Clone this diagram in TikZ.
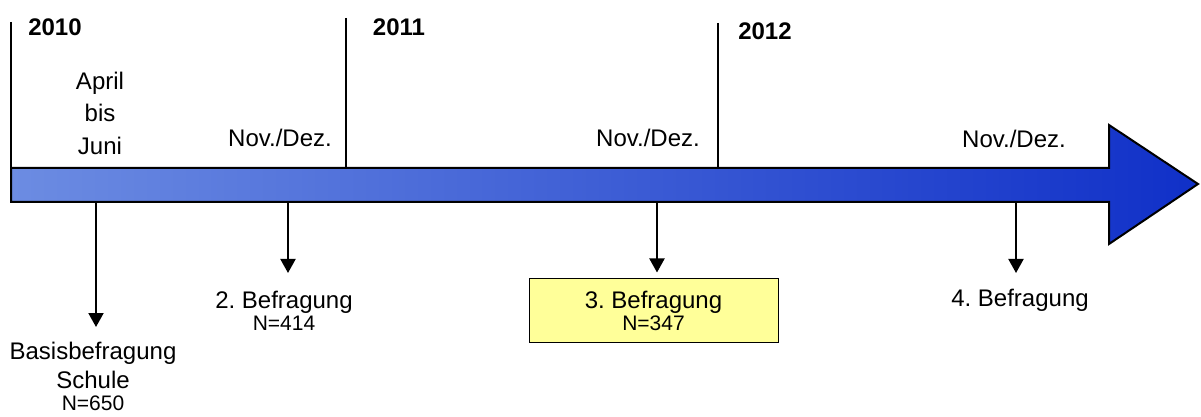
\documentclass[tikz,border=0pt]{standalone}
\usepackage{fontspec}
\setmainfont{Liberation Sans}
\usetikzlibrary{arrows.meta}
\definecolor{ShaftLeft}{RGB}{108,140,226}
\definecolor{ShaftRight}{RGB}{16,48,200}
\definecolor{Note}{HTML}{FFFF99}
\frenchspacing

\begin{document}
\begin{tikzpicture}[
  x=.5pt,y=-.5pt,
  year/.style={font=\bfseries\fontsize{12}{14}\selectfont,inner sep=0pt},
  month/.style={font=\fontsize{12}{16.25}\selectfont,align=center,inner sep=0pt},
  wave/.style={font=\fontsize{12}{14}\selectfont,align=center,inner sep=0pt},
  tick/.style={line width=.75pt},
  drop/.style={-{Triangle[length=7pt,width=7.5pt]},line width=1pt,shorten >=#1},
  drop/.default=9pt
]
\useasboundingbox (0,0) rectangle (1201,417);
% time arrow
\shade[left color=ShaftLeft,right color=ShaftRight,draw=black,line width=1pt]
  (11,168) -- (1109,168) -- (1109,125) -- (1198,184) -- (1109,244) -- (1109,202) -- (11,202) -- cycle;
\draw[tick] (11,22) -- (11,168);
\draw[tick] (346,18) -- (346,168);
\draw[tick] (718,23) -- (718,168);

\node[year] (y2010) at (55,27) {2010};
\node[year] (y2011) at (399,27) {2011};
\node[year] (y2012) at (765,31) {2012};

\node[month] (apr) at (100,113) {April\\bis\\Juni};
\node[month] (nov1) at (280,138) {Nov./Dez.};
\node[month] (nov2) at (648,138) {Nov./Dez.};
\node[month] (nov3) at (1014,139) {Nov./Dez.};

\coordinate (s1) at (96,202);
\coordinate (s2) at (288,202);
\coordinate (s3) at (657,202);
\coordinate (s4) at (1016,202);

\node[wave,anchor=north,font=\fontsize{12}{14.25}\selectfont] (basis) at (93,342) {Basisbefragung\\Schule\\[-3pt]{\fontsize{10.5}{12}\selectfont N=650}};
\node[wave,anchor=north] (w2) at (284,291) {2. Befragung\\[-3pt]{\fontsize{10.5}{12}\selectfont N=414}};
\node[wave,draw=black,fill=Note,line width=.5pt,minimum width=124.5pt,minimum height=31.5pt] (w3) at (653.5,310.5) {3. Befragung\\[-3pt]{\fontsize{10.5}{12}\selectfont N=347}};
\node[wave] (w4) at (1020,300) {4. Befragung};

\draw[drop=7.5pt] (s1) -- (s1 |- basis.north);
\draw[drop] (s2) -- (s2 |- w2.north);
\draw[drop=3pt] (s3) -- (s3 |- w3.north);
\draw[drop=13.5pt] (s4) -- (s4 |- w4.center);
\end{tikzpicture}
\end{document}
